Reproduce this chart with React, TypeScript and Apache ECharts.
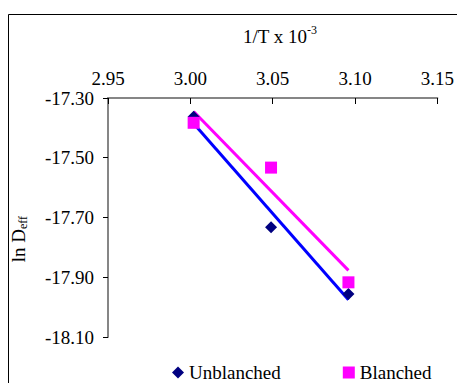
import React, { useEffect, useRef } from "react";
import * as echarts from "echarts";

const xTicks = [2.95, 3.0, 3.05, 3.1, 3.15];
const yTicks = [-18.1, -17.9, -17.7, -17.5, -17.3];
const invT = [3.002, 3.049, 3.096];
const unblanched = [-17.363, -17.733, -17.956];
const blanched = [-17.383, -17.533, -17.917];
const trendX = [3.002, 3.096];
const unblanchedTrend = [-17.385, -17.975];
const blanchedTrend = [-17.345, -17.877];

const FONT = "Liberation Serif";

export default function App() {
  const ref = useRef<HTMLDivElement>(null);
  useEffect(() => {
    if (!ref.current) return;
    const chart = echarts.init(ref.current, null, { renderer: "svg" });
    const pair = (xs: number[], ys: number[]) => xs.map((x, i) => [x, ys[i]]);
    chart.setOption({
      animation: false,
      backgroundColor: "#ffffff",
      textStyle: { fontFamily: FONT },
      grid: { left: 108, top: 98, right: 14, bottom: 46, containLabel: false },
      xAxis: {
        type: "value",
        position: "top",
        min: 2.95,
        max: 3.15,
        splitLine: { show: false },
        axisLine: { show: true, lineStyle: { color: "#868686", width: 2 } },
        axisTick: { show: true, inside: true, length: 6, customValues: xTicks, lineStyle: { color: "#000", width: 1 } },
        axisLabel: {
          customValues: xTicks,
          formatter: (v: number) => v.toFixed(2),
          fontSize: 19,
          fontFamily: FONT,
          color: "#000",
          margin: 10,
          hideOverlap: false,
        },
      },
      yAxis: {
        type: "value",
        min: -18.1,
        max: -17.3,
        splitLine: { show: false },
        axisLine: { show: true, lineStyle: { color: "#868686", width: 2 } },
        axisTick: { show: true, inside: false, length: 5, customValues: yTicks, lineStyle: { color: "#000", width: 1 } },
        axisLabel: {
          customValues: yTicks,
          formatter: (v: number) => v.toFixed(2),
          fontSize: 19,
          fontFamily: FONT,
          color: "#000",
          margin: 14,
        },
      },
      legend: {
        data: [
          { name: "Unblanched", icon: "diamond" },
          { name: "Blanched", icon: "rect" },
        ],
        left: 167,
        top: 358,
        itemWidth: 12,
        itemHeight: 12,
        itemGap: 62,
        textStyle: { fontSize: 19, fontFamily: FONT, color: "#000" },
      },
      graphic: [
        {
          type: "rect",
          silent: true,
          shape: { x: 8.5, y: 14.5, width: 600, height: 600 },
          style: { fill: "none", stroke: "#000", lineWidth: 1 },
        },
        {
          type: "text",
          x: 307,
          y: 36,
          style: { text: "1/T x 10", fontSize: 19, fontFamily: FONT, fill: "#000", textAlign: "right", textVerticalAlign: "middle" },
        },
        {
          type: "text",
          x: 307,
          y: 30,
          style: { text: "-3", fontSize: 12, fontFamily: FONT, fill: "#000", textAlign: "left", textVerticalAlign: "middle" },
        },
        {
          type: "group",
          x: 18,
          y: 229,
          rotation: Math.PI / 2,
          children: [
            {
              type: "text",
              x: 0,
              y: 0,
              style: { text: "ln D", fontSize: 19, fontFamily: FONT, fill: "#000", textAlign: "right", textVerticalAlign: "middle" },
            },
            {
              type: "text",
              x: 0,
              y: 5,
              style: { text: "eff", fontSize: 12, fontFamily: FONT, fill: "#000", textAlign: "left", textVerticalAlign: "middle" },
            },
          ],
        },
      ],
      series: [
        {
          name: "Unblanched trend",
          type: "line",
          data: pair(trendX, unblanchedTrend),
          symbol: "none",
          lineStyle: { color: "#0000FF", width: 3 },
          itemStyle: { color: "#0000FF" },
          z: 2,
        },
        {
          name: "Blanched trend",
          type: "line",
          data: pair(trendX, blanchedTrend),
          symbol: "none",
          lineStyle: { color: "#FF00FF", width: 3 },
          itemStyle: { color: "#FF00FF" },
          z: 2,
        },
        {
          name: "Unblanched",
          type: "scatter",
          data: pair(invT, unblanched),
          symbol: "diamond",
          symbolSize: 12,
          itemStyle: { color: "#000080", opacity: 1 },
          z: 3,
        },
        {
          name: "Blanched",
          type: "scatter",
          data: pair(invT, blanched),
          symbol: "rect",
          symbolSize: 12,
          itemStyle: { color: "#FF00FF", opacity: 1 },
          z: 3,
        },
      ],
    });
    return () => chart.dispose();
  }, []);
  return (
    <div
      ref={ref}
      style={{ position: "fixed", left: 0, top: 0, width: 457, height: 383 }}
    />
  );
}
